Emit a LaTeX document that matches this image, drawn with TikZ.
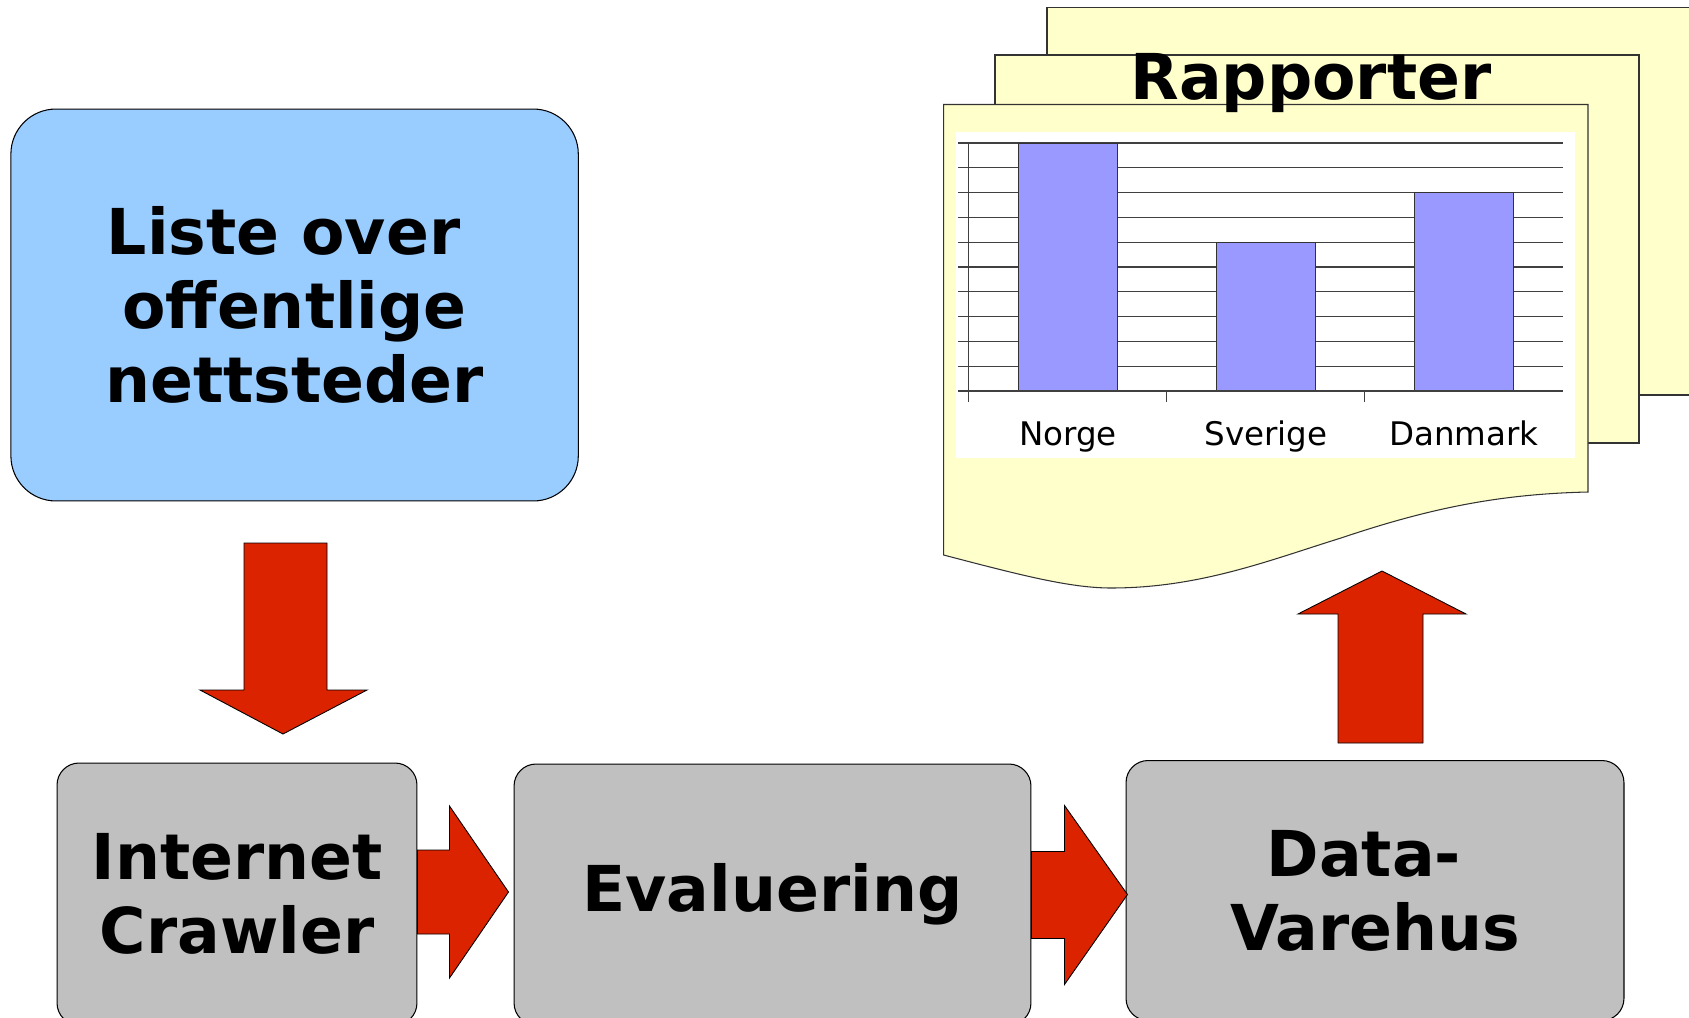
\documentclass[tikz,border=0pt]{standalone}
\usepackage{fontspec}
\setmainfont{DejaVu Sans}
\usepackage{tikz}

\definecolor{listeblue}{HTML}{99CCFF}
\definecolor{boxgrey}{HTML}{C0C0C0}
\definecolor{arrowred}{HTML}{DC2300}
\definecolor{pageyellow}{HTML}{FFFFCC}
\definecolor{barblue}{HTML}{9999FF}

\tikzset{
    stepbox/.style={draw, rectangle, rounded corners=0.44cm, fill=boxgrey, line width=0.6pt, align=center, inner sep=0pt, font=\fontsize{36}{42}\selectfont\bfseries},
    listebox/.style={stepbox, rounded corners=0.9cm, fill=listeblue},
    blockarrow/.style={draw=black, fill=arrowred, line width=0.5pt, line join=miter},
    page/.style={draw=black!80, fill=pageyellow, line width=0.6pt},
    gridline/.style={draw=black!75, line width=0.6pt},
    bar/.style={draw=black!80, fill=barblue, line width=0.5pt},
    chartlabel/.style={anchor=base, inner sep=0pt, font=\fontsize{18.5}{22}\selectfont}
}

\begin{document}
\begin{tikzpicture}[x=0.02cm, y=-0.02cm]
    \useasboundingbox (0, 0) rectangle (1689, 1017);
    \clip (0, 0) rectangle (1689, 1017);
    \fill [white] (0, 0) rectangle (1689, 1017);

    \node (liste) at (294.6, 305) [listebox, minimum width=11.35cm, minimum height=7.84cm] {Liste over\kern0.35em\\offentlige\\nettsteder};

    \node (crawler) at (237, 894) [stepbox, minimum width=7.2cm, minimum height=5.24cm] {Internet\\Crawler};

    \node (evaluering) at (772.5, 894.5) [stepbox, minimum width=10.34cm, minimum height=5.22cm] {Evaluering};

    \node (varehus) at (1375, 890.5) [stepbox, minimum width=9.96cm, minimum height=5.2cm] {Data-\kern0.35em\\Varehus};

    \draw [blockarrow] (244, 543) -- (327, 543) -- (327, 690) -- (367, 690) -- (283, 734) -- (200, 690) -- (244, 690) -- cycle;
    \draw [blockarrow] ([yshift=0.88cm]crawler.east) -- ++(32, 0) -- ++(0, -44) -- ++(59, 86) -- ++(-59, 86) -- ++(0, -44) -- ++(-32, 0) -- cycle;
    \draw [blockarrow] ([yshift=0.86cm]evaluering.east) -- ++(33, 0) -- ++(0, -46) -- ++(63, 89) -- ++(-63, 90) -- ++(0, -46) -- ++(-33, 0) -- cycle;
    \draw [blockarrow] (1338, 743) -- (1338, 614) -- (1298, 614) -- (1382, 571) -- (1466, 614) -- (1423, 614) -- (1423, 743) -- cycle;


    \draw [page] (1047, 7.5) rectangle (1700, 395);
    \draw [page] (995, 55) rectangle (1639, 443);
    \draw [page] (943.6, 104.5) -- (1588, 104.5) -- (1588, 492) .. controls (1500, 494) and (1430, 508) .. (1341, 538) .. controls (1270, 560) and (1200, 588) .. (1111, 588) .. controls (1070, 588) and (1020, 575) .. (943.6, 555) -- cycle;

    \node (rapporter) at (1311, 99) [anchor=base, inner sep=0pt, font=\fontsize{36}{42}\selectfont\bfseries] {Rapporter};

    \fill [white] (956, 132) rectangle (1575, 458);
    \draw [gridline] (958, 143) -- (1563, 143) (958, 167.8) -- (1563, 167.8) (958, 192.6) -- (1563, 192.6) (958, 217.4) -- (1563, 217.4) (958, 242.2) -- (1563, 242.2) (958, 267) -- (1563, 267) (958, 291.8) -- (1563, 291.8) (958, 316.6) -- (1563, 316.6) (958, 341.4) -- (1563, 341.4) (958, 366.2) -- (1563, 366.2);
    \draw [gridline] (968.7, 143) -- (968.7, 402) (1166.8, 391) -- (1166.8, 402) (1364.9, 391) -- (1364.9, 402);
    \draw [bar] (1018.2, 391) rectangle (1117.3, 143);
    \draw [bar] (1216.3, 391) rectangle (1315.4, 242.2);
    \draw [bar] (1414.4, 391) rectangle (1513.5, 192.6);
    \draw [gridline] (958, 391) -- (1563, 391);

    \node (norge) at (1068, 445) [chartlabel] {Norge};
    \node (sverige) at (1266, 445) [chartlabel] {Sverige};
    \node (danmark) at (1464, 445) [chartlabel] {Danmark};
\end{tikzpicture}
\end{document}
